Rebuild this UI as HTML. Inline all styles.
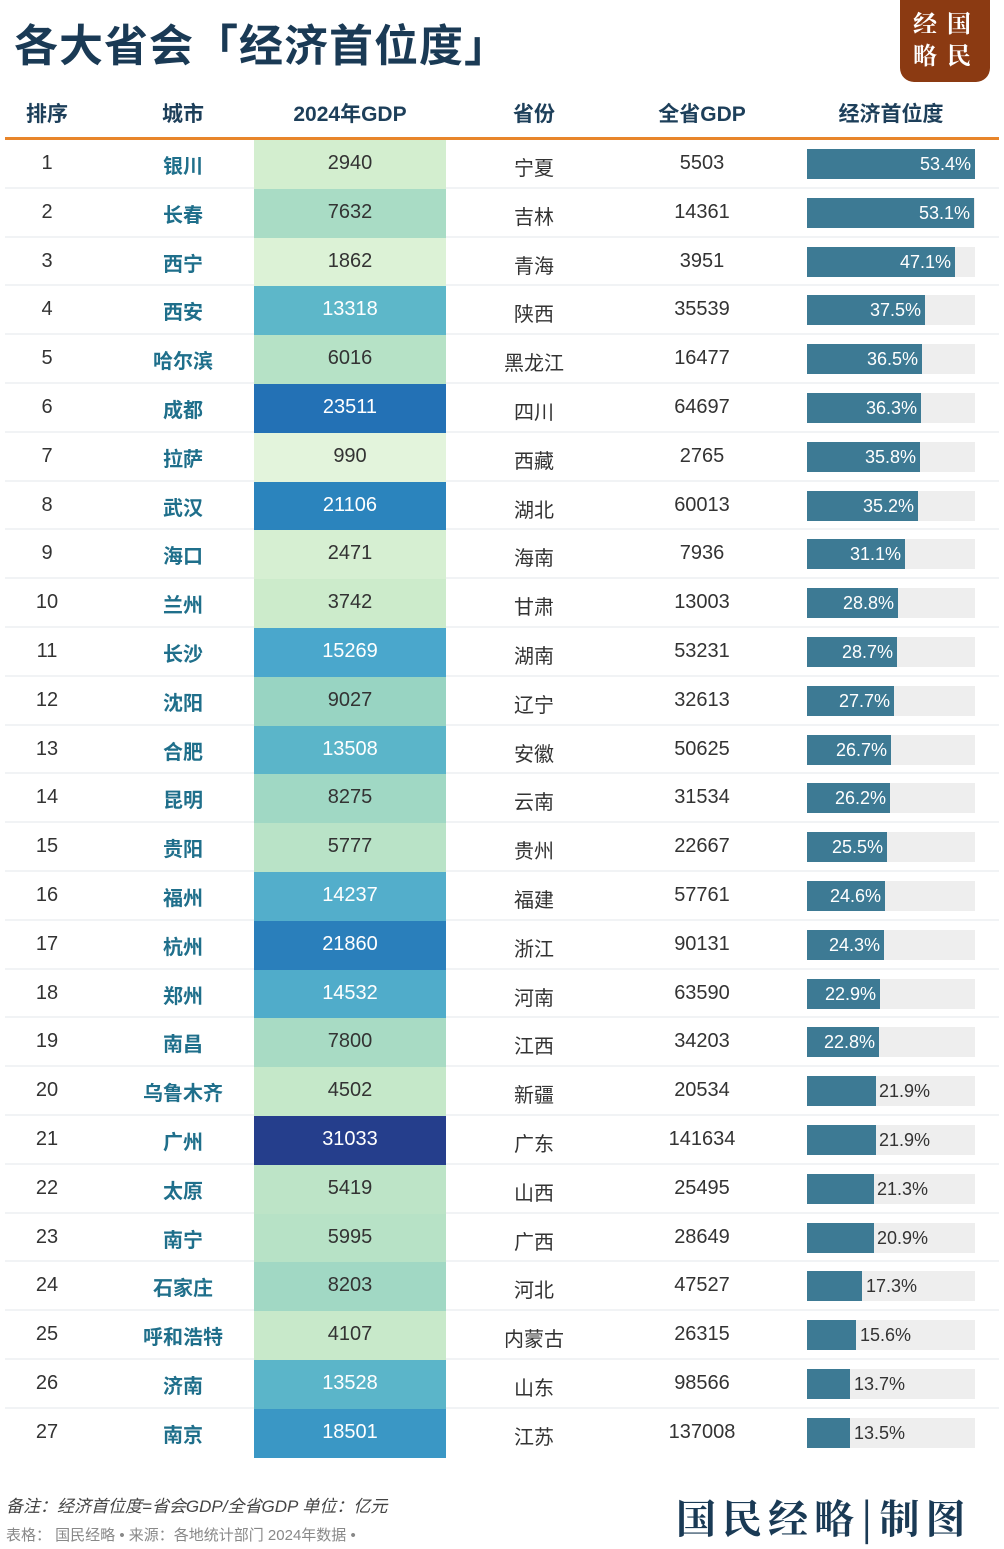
<!DOCTYPE html>
<html><head><meta charset="utf-8"><style>
*{margin:0;padding:0;box-sizing:border-box}
body{width:1004px;height:1549px;background:#fff;position:relative;overflow:hidden;font-family:"Liberation Sans","Noto Sans CJK SC",sans-serif}
.t{position:absolute;left:14px;top:10px;font-size:44px;font-weight:bold;color:#1a3a55;letter-spacing:1px}
.logo{position:absolute;left:900px;top:0;width:90px;height:82px;background:#8b3a12;border-radius:0 0 14px 14px;color:#fff;font-family:"Noto Serif CJK SC",serif;font-weight:bold;font-size:24px;line-height:32px;padding:6px 0 0 13px;letter-spacing:10px}
.h{position:absolute;top:98px;font-size:21px;font-weight:bold;color:#1d3f5a;transform:translateX(-50%);white-space:nowrap}
.ol{position:absolute;left:5px;top:137px;width:994px;height:3px;background:#e8852a}
.r{position:absolute;left:5px;width:994px;height:48.8px;border-bottom:2px solid #f1f3f5}
.r div{position:absolute;top:0;height:48.8px;line-height:46px;font-size:20px;color:#333;text-align:center}
.a{left:0;width:84px}
.c{left:118px;width:120px;color:#1f6f8b!important;font-weight:bold;padding-top:4px}
.g{left:249px;width:192px}
.p{left:469px;width:120px;padding-top:6px}
.q{left:627px;width:140px}
.bb{left:802px!important;width:168px;height:30px!important;top:9px!important;background:#eeeeee}
.b{left:0!important;top:0!important;height:30px!important;background:#3d7a94;color:#fff!important;text-align:right!important;line-height:30px!important;font-size:18px!important;padding-right:4px}
.o{position:absolute;top:0;line-height:30px;font-size:18px;color:#333}
.f1{position:absolute;left:6px;top:1492px;font-size:17px;color:#444;font-style:italic}
.f2{position:absolute;left:6px;top:1524px;font-size:15px;color:#888}
.f3{position:absolute;left:676px;top:1488px;font-size:40px;color:#1a3a55;font-family:"Noto Serif CJK SC",serif;font-weight:bold;letter-spacing:6px}
</style></head><body>
<div class="t">各大省会「经济首位度」</div>
<div class="logo">经国<br>略民</div>
<div class="h" style="left:47px">排序</div><div class="h" style="left:183px">城市</div><div class="h" style="left:350px">2024年GDP</div><div class="h" style="left:534px">省份</div><div class="h" style="left:702px">全省GDP</div><div class="h" style="left:891px">经济首位度</div>
<div class="ol"></div>

<div class="r" style="top:140px"><div class="a">1</div><div class="c">银川</div><div class="g" style="background:#d3eecf">2940</div><div class="p">宁夏</div><div class="q">5503</div><div class="bb"><div class="b" style="width:168px">53.4%</div></div></div>
<div class="r" style="top:188.8px"><div class="a">2</div><div class="c">长春</div><div class="g" style="background:#a9dcc5">7632</div><div class="p">吉林</div><div class="q">14361</div><div class="bb"><div class="b" style="width:167px">53.1%</div></div></div>
<div class="r" style="top:237.6px"><div class="a">3</div><div class="c">西宁</div><div class="g" style="background:#dcf2d6">1862</div><div class="p">青海</div><div class="q">3951</div><div class="bb"><div class="b" style="width:148px">47.1%</div></div></div>
<div class="r" style="top:286.4px"><div class="a">4</div><div class="c">西安</div><div class="g" style="background:#5db7c9;color:#fff">13318</div><div class="p">陕西</div><div class="q">35539</div><div class="bb"><div class="b" style="width:118px">37.5%</div></div></div>
<div class="r" style="top:335.2px"><div class="a">5</div><div class="c">哈尔滨</div><div class="g" style="background:#b6e2c6">6016</div><div class="p">黑龙江</div><div class="q">16477</div><div class="bb"><div class="b" style="width:115px">36.5%</div></div></div>
<div class="r" style="top:384px"><div class="a">6</div><div class="c">成都</div><div class="g" style="background:#2371b5;color:#fff">23511</div><div class="p">四川</div><div class="q">64697</div><div class="bb"><div class="b" style="width:114px">36.3%</div></div></div>
<div class="r" style="top:432.8px"><div class="a">7</div><div class="c">拉萨</div><div class="g" style="background:#e3f4dc">990</div><div class="p">西藏</div><div class="q">2765</div><div class="bb"><div class="b" style="width:113px">35.8%</div></div></div>
<div class="r" style="top:481.6px"><div class="a">8</div><div class="c">武汉</div><div class="g" style="background:#2b84bd;color:#fff">21106</div><div class="p">湖北</div><div class="q">60013</div><div class="bb"><div class="b" style="width:111px">35.2%</div></div></div>
<div class="r" style="top:530.4px"><div class="a">9</div><div class="c">海口</div><div class="g" style="background:#d6efd2">2471</div><div class="p">海南</div><div class="q">7936</div><div class="bb"><div class="b" style="width:98px">31.1%</div></div></div>
<div class="r" style="top:579.2px"><div class="a">10</div><div class="c">兰州</div><div class="g" style="background:#ccebcb">3742</div><div class="p">甘肃</div><div class="q">13003</div><div class="bb"><div class="b" style="width:91px">28.8%</div></div></div>
<div class="r" style="top:628px"><div class="a">11</div><div class="c">长沙</div><div class="g" style="background:#4aa7cc;color:#fff">15269</div><div class="p">湖南</div><div class="q">53231</div><div class="bb"><div class="b" style="width:90px">28.7%</div></div></div>
<div class="r" style="top:676.8px"><div class="a">12</div><div class="c">沈阳</div><div class="g" style="background:#98d4c2">9027</div><div class="p">辽宁</div><div class="q">32613</div><div class="bb"><div class="b" style="width:87px">27.7%</div></div></div>
<div class="r" style="top:725.6px"><div class="a">13</div><div class="c">合肥</div><div class="g" style="background:#5bb5c9;color:#fff">13508</div><div class="p">安徽</div><div class="q">50625</div><div class="bb"><div class="b" style="width:84px">26.7%</div></div></div>
<div class="r" style="top:774.4px"><div class="a">14</div><div class="c">昆明</div><div class="g" style="background:#a0d8c4">8275</div><div class="p">云南</div><div class="q">31534</div><div class="bb"><div class="b" style="width:83px">26.2%</div></div></div>
<div class="r" style="top:823.2px"><div class="a">15</div><div class="c">贵阳</div><div class="g" style="background:#b9e3c7">5777</div><div class="p">贵州</div><div class="q">22667</div><div class="bb"><div class="b" style="width:80px">25.5%</div></div></div>
<div class="r" style="top:872px"><div class="a">16</div><div class="c">福州</div><div class="g" style="background:#53aecb;color:#fff">14237</div><div class="p">福建</div><div class="q">57761</div><div class="bb"><div class="b" style="width:78px">24.6%</div></div></div>
<div class="r" style="top:920.8px"><div class="a">17</div><div class="c">杭州</div><div class="g" style="background:#2a7fbb;color:#fff">21860</div><div class="p">浙江</div><div class="q">90131</div><div class="bb"><div class="b" style="width:77px">24.3%</div></div></div>
<div class="r" style="top:969.6px"><div class="a">18</div><div class="c">郑州</div><div class="g" style="background:#50acca;color:#fff">14532</div><div class="p">河南</div><div class="q">63590</div><div class="bb"><div class="b" style="width:73px">22.9%</div></div></div>
<div class="r" style="top:1018.4px"><div class="a">19</div><div class="c">南昌</div><div class="g" style="background:#a8dbc4">7800</div><div class="p">江西</div><div class="q">34203</div><div class="bb"><div class="b" style="width:72px">22.8%</div></div></div>
<div class="r" style="top:1067.2px"><div class="a">20</div><div class="c">乌鲁木齐</div><div class="g" style="background:#c5e8c9">4502</div><div class="p">新疆</div><div class="q">20534</div><div class="bb"><div class="b" style="width:69px"></div><span class="o" style="left:72px">21.9%</span></div></div>
<div class="r" style="top:1116px"><div class="a">21</div><div class="c">广州</div><div class="g" style="background:#253e8c;color:#fff">31033</div><div class="p">广东</div><div class="q">141634</div><div class="bb"><div class="b" style="width:69px"></div><span class="o" style="left:72px">21.9%</span></div></div>
<div class="r" style="top:1164.8px"><div class="a">22</div><div class="c">太原</div><div class="g" style="background:#bde4c7">5419</div><div class="p">山西</div><div class="q">25495</div><div class="bb"><div class="b" style="width:67px"></div><span class="o" style="left:70px">21.3%</span></div></div>
<div class="r" style="top:1213.6px"><div class="a">23</div><div class="c">南宁</div><div class="g" style="background:#b7e2c6">5995</div><div class="p">广西</div><div class="q">28649</div><div class="bb"><div class="b" style="width:67px"></div><span class="o" style="left:70px">20.9%</span></div></div>
<div class="r" style="top:1262.4px"><div class="a">24</div><div class="c">石家庄</div><div class="g" style="background:#a1d8c4">8203</div><div class="p">河北</div><div class="q">47527</div><div class="bb"><div class="b" style="width:55px"></div><span class="o" style="left:59px">17.3%</span></div></div>
<div class="r" style="top:1311.2px"><div class="a">25</div><div class="c">呼和浩特</div><div class="g" style="background:#c8e9ca">4107</div><div class="p">内蒙古</div><div class="q">26315</div><div class="bb"><div class="b" style="width:49px"></div><span class="o" style="left:53px">15.6%</span></div></div>
<div class="r" style="top:1360px"><div class="a">26</div><div class="c">济南</div><div class="g" style="background:#5bb5c9;color:#fff">13528</div><div class="p">山东</div><div class="q">98566</div><div class="bb"><div class="b" style="width:43px"></div><span class="o" style="left:47px">13.7%</span></div></div>
<div class="r" style="top:1408.8px;border-bottom:none"><div class="a">27</div><div class="c">南京</div><div class="g" style="background:#3a97c5;color:#fff">18501</div><div class="p">江苏</div><div class="q">137008</div><div class="bb"><div class="b" style="width:43px"></div><span class="o" style="left:47px">13.5%</span></div></div>

<div class="f1">备注：经济首位度=省会GDP/全省GDP 单位：亿元</div>
<div class="f2">表格：&nbsp;国民经略 • 来源：各地统计部门 2024年数据 •</div>
<div class="f3">国民经略|制图</div>
</body></html>
